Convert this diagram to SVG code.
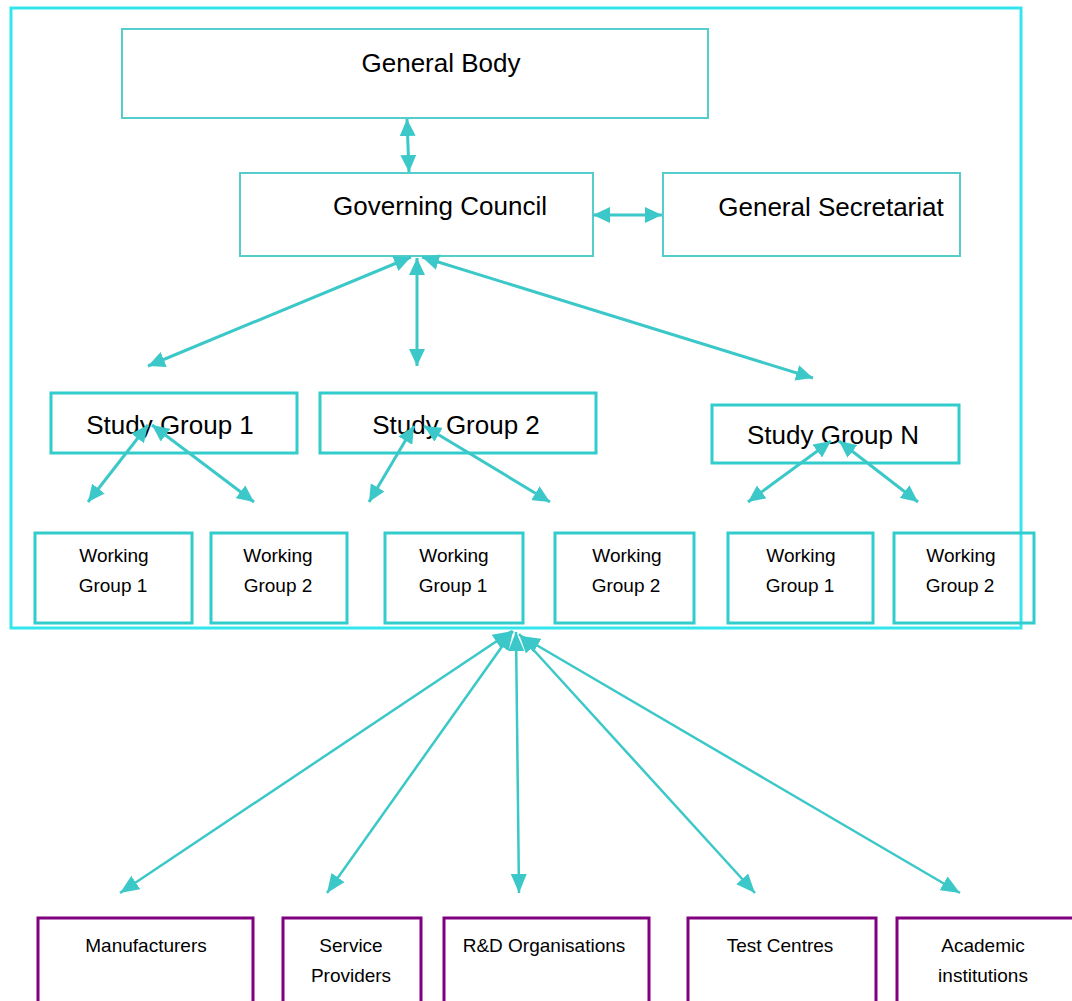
<svg xmlns="http://www.w3.org/2000/svg" width="1072" height="1001" viewBox="0 0 1072 1001">
<style>
.thin{fill:none;stroke:#55CDCD;stroke-width:2}
.box{fill:none;stroke:#33CCCC;stroke-width:3}
.ext{fill:none;stroke:#800080;stroke-width:3}
.big{font-family:"Liberation Sans",Arial,sans-serif;font-size:26px;fill:#000;text-anchor:middle}
.sm{font-family:"Liberation Sans",Arial,sans-serif;font-size:19px;fill:#000;text-anchor:middle}
.con{stroke:#3CC8C8;stroke-width:3;fill:none;marker-start:url(#ah);marker-end:url(#ah)}
.con2{stroke:#3CC8C8;stroke-width:2.5;fill:none;marker-start:url(#ah2);marker-end:url(#ah2)}
</style>
<defs>
<marker id="ah" markerUnits="userSpaceOnUse" markerWidth="18" markerHeight="16" refX="17" refY="8" orient="auto-start-reverse"><path d="M0,0 L17,8 L0,16 z" fill="#3CC8C8"/></marker>
<marker id="ah2" markerUnits="userSpaceOnUse" markerWidth="20" markerHeight="16" refX="19" refY="8" orient="auto-start-reverse"><path d="M0,0 L19,8 L0,16 z" fill="#3CC8C8"/></marker>
</defs>
<rect width="1072" height="1001" fill="#fff"/>
<g id="frame"><rect x="11" y="8" width="1010" height="620" fill="none" stroke="#33E6EE" stroke-width="3"/></g>
<g id="general-body"><rect class="thin" x="122" y="29" width="586" height="89"/><text class="big" x="441" y="72">General Body</text></g>
<g id="governing-council"><rect class="thin" x="240" y="173" width="353" height="83"/><text class="big" x="440" y="215">Governing Council</text></g>
<g id="general-secretariat"><rect class="thin" x="663" y="173" width="297" height="83"/><text class="big" x="831" y="216">General Secretariat</text></g>
<g id="study-group-1"><rect class="box" x="51" y="393" width="246" height="60"/><text class="big" x="170" y="434">Study Group 1</text></g>
<g id="study-group-2"><rect class="box" x="320" y="393" width="276" height="60"/><text class="big" x="456" y="434">Study Group 2</text></g>
<g id="study-group-n"><rect class="box" x="712" y="405" width="247" height="58"/><text class="big" x="833" y="444">Study Group N</text></g>
<g id="wg1-sg1"><rect class="box" x="35" y="533" width="157" height="90"/><text class="sm" x="114" y="562">Working</text><text class="sm" x="113" y="592">Group 1</text></g>
<g id="wg2-sg1"><rect class="box" x="211" y="533" width="136" height="90"/><text class="sm" x="278" y="562">Working</text><text class="sm" x="278" y="592">Group 2</text></g>
<g id="wg1-sg2"><rect class="box" x="385" y="533" width="138" height="90"/><text class="sm" x="454" y="562">Working</text><text class="sm" x="453" y="592">Group 1</text></g>
<g id="wg2-sg2"><rect class="box" x="555" y="533" width="139" height="90"/><text class="sm" x="627" y="562">Working</text><text class="sm" x="626" y="592">Group 2</text></g>
<g id="wg1-sgn"><rect class="box" x="728" y="533" width="145" height="90"/><text class="sm" x="801" y="562">Working</text><text class="sm" x="800" y="592">Group 1</text></g>
<g id="wg2-sgn"><rect class="box" x="894" y="533" width="140" height="90"/><text class="sm" x="961" y="562">Working</text><text class="sm" x="960" y="592">Group 2</text></g>
<g id="manufacturers"><rect class="ext" x="38" y="918" width="215" height="95"/><text class="sm" x="146" y="952">Manufacturers</text></g>
<g id="service-providers"><rect class="ext" x="283" y="918" width="138" height="95"/><text class="sm" x="351" y="952">Service</text><text class="sm" x="351" y="982">Providers</text></g>
<g id="rd-organisations"><rect class="ext" x="444" y="918" width="205" height="95"/><text class="sm" x="544" y="952">R&amp;D Organisations</text></g>
<g id="test-centres"><rect class="ext" x="688" y="918" width="188" height="95"/><text class="sm" x="780" y="952">Test Centres</text></g>
<g id="academic-institutions"><rect class="ext" x="897" y="918" width="190" height="95"/><text class="sm" x="983" y="952">Academic</text><text class="sm" x="983" y="982">institutions</text></g>
<g id="connectors">
<line class="con" x1="407" y1="119" x2="409" y2="172"/>
<line class="con" x1="593" y1="215" x2="662" y2="215"/>
<line class="con" x1="411" y1="257" x2="148" y2="366"/>
<line class="con" x1="417" y1="258" x2="417" y2="366"/>
<line class="con" x1="422" y1="257" x2="813" y2="378"/>
<line class="con" x1="148" y1="425" x2="88" y2="502"/>
<line class="con" x1="152" y1="425" x2="254" y2="502"/>
<line class="con" x1="414" y1="426" x2="369" y2="502"/>
<line class="con" x1="424" y1="426" x2="550" y2="502"/>
<line class="con" x1="831" y1="441" x2="748" y2="502"/>
<line class="con" x1="839" y1="441" x2="918" y2="502"/>
<line class="con2" x1="512" y1="631" x2="120" y2="893"/>
<line class="con2" x1="513" y1="631" x2="327" y2="893" stroke-width="3.5"/>
<line class="con2" x1="516" y1="632" x2="519" y2="893"/>
<line class="con2" x1="519" y1="634" x2="755" y2="893"/>
<line class="con2" x1="521" y1="636" x2="960" y2="893"/>
</g>
</svg>
